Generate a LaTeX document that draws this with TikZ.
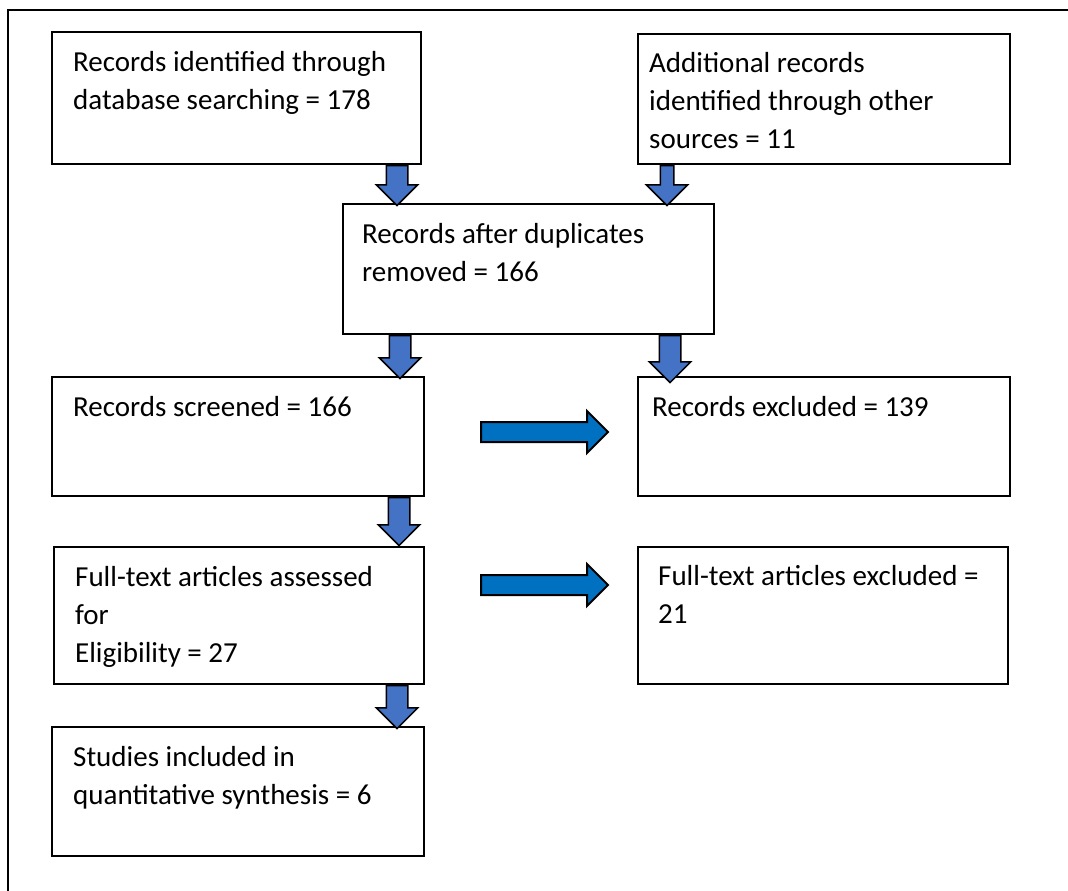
\documentclass[tikz,border=0pt]{standalone}
\usepackage{fontspec}
\setmainfont{Carlito}
\usetikzlibrary{shapes.arrows,calc}
\definecolor{dnblue}{HTML}{4472C4}
\definecolor{rtblue}{HTML}{0070C0}
\tikzset{
  box/.style={draw,line width=1.8pt,rectangle,anchor=north west,inner sep=0pt},
  % base west of a multi-line node is the baseline of its last line
  txt/.style={anchor=base west,align=left,inner sep=0pt,font=\fontsize{29}{38}\selectfont},
  dnarrow/.style={single arrow,draw,line width=1.5pt,fill=dnblue,rotate=-90,anchor=tail,
    minimum width=40pt,single arrow head extend=10pt,inner xsep=0pt,inner ysep=10pt},
  rtarrow/.style={single arrow,draw,line width=2pt,fill=rtblue,anchor=tail,
    minimum width=40pt,single arrow head extend=11pt,inner xsep=0pt,inner ysep=9pt,
    minimum height=127pt}
}
\begin{document}
\begin{tikzpicture}[x=1pt,y=-1pt]
\useasboundingbox (0,0) rectangle (1068,891);
\draw[line width=1.8pt] (1068,10) -- (8,10) -- (8,891);
% boxes
\node[box,minimum width=369pt,minimum height=132pt] (db) at (51,31) {};
\node[box,minimum width=372pt,minimum height=130pt] (oth) at (637,33) {};
\node[box,minimum width=371pt,minimum height=130pt] (dup) at (342,203) {};
\node[box,minimum width=372pt,minimum height=119pt] (scr) at (51,376) {};
\node[box,minimum width=372pt,minimum height=119pt] (exc) at (637,376) {};
\node[box,minimum width=370pt,minimum height=137pt] (elig) at (53,546) {};
\node[box,minimum width=370pt,minimum height=137pt] (ftx) at (637,546) {};
\node[box,minimum width=372pt,minimum height=129pt] (inc) at (51,726) {};
% texts
\node[txt] (tdb) at ($(db.north west)+(22,79)$) {Records identified through\\database searching = 178};
\node[txt] (toth) at ($(oth.north west)+(12,115)$) {Additional records\\identified through other\\sources = 11};
\node[txt] (tdup) at ($(dup.north west)+(20,78)$) {Records after duplicates\\removed = 166};
\node[txt] (tscr) at ($(scr.north west)+(22,40)$) {Records screened = 166};
\node[txt] (texc) at ($(exc.north west)+(15,40)$) {Records excluded = 139};
\node[txt] (telig) at ($(elig.north west)+(22,116)$) {Full-text articles assessed\\for\\Eligibility = 27};
\node[txt] (tftx) at ($(ftx.north west)+(21,77)$) {Full-text articles excluded =\\21};
\node[txt] (tinc) at ($(inc.north west)+(22,78)$) {Studies included in\\quantitative synthesis = 6};
% block arrows
\node[dnarrow,minimum height=40pt] (a1) at (397,0 |- db.south) {};
\node[dnarrow,minimum height=40pt,inner ysep=6pt,single arrow head extend=14pt] (a2) at (667,0 |- oth.south) {};
\node[dnarrow,minimum height=43pt] (a3) at (400,0 |- dup.south) {};
\node[dnarrow,minimum height=47pt] (a4) at (670,0 |- dup.south) {};
\node[dnarrow,minimum height=48pt] (a5) at (399,0 |- scr.south) {};
\node[dnarrow,minimum height=43pt] (a6) at (397,0 |- elig.south) {};
\node[rtarrow] (r1) at (480,432) {};
\node[rtarrow] (r2) at (480,585) {};
\end{tikzpicture}
\end{document}
